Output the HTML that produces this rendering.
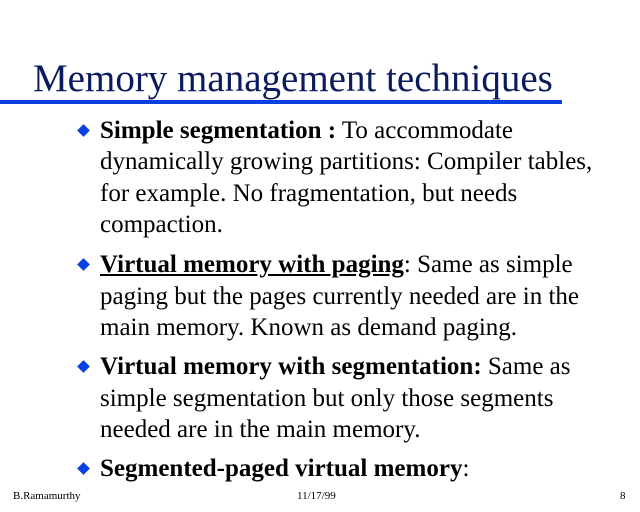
<!DOCTYPE html>
<html><head><style>
body{margin:0;width:640px;height:512px;background:#fff;position:relative;overflow:hidden;font-family:"Liberation Serif",serif;}
.t{position:absolute;left:33px;top:59px;font-size:39px;line-height:39px;color:#0a1a5c;white-space:nowrap;}
.rule{position:absolute;left:0;top:100px;width:562px;height:4px;background:#0a3fe0;}
.l{position:absolute;left:100px;font-size:25px;line-height:25px;white-space:nowrap;color:#000;}
.d{position:absolute;left:79px;width:9px;height:9px;background:#0a3fe0;transform:rotate(45deg);}
.f{position:absolute;top:491px;font-size:11px;line-height:11px;color:#000;}
</style></head><body>
<div class="t">Memory management techniques</div>
<div class="rule"></div>
<div class="d" style="top:126px"></div>
<div class="l" style="top:118px"><b>Simple segmentation :</b> To accommodate</div>
<div class="l" style="top:149px">dynamically growing partitions: Compiler tables,</div>
<div class="l" style="top:181px">for example. No fragmentation, but needs</div>
<div class="l" style="top:212px">compaction.</div>
<div class="d" style="top:260px"></div>
<div class="l" style="top:252px"><b><u>Virtual memory with paging</u></b>: Same as simple</div>
<div class="l" style="top:284px">paging but the pages currently needed are in the</div>
<div class="l" style="top:315px">main memory. Known as demand paging.</div>
<div class="d" style="top:362px"></div>
<div class="l" style="top:354px"><b>Virtual memory with segmentation:</b> Same as</div>
<div class="l" style="top:386px">simple segmentation but only those segments</div>
<div class="l" style="top:417px">needed are in the main memory.</div>
<div class="d" style="top:464px"></div>
<div class="l" style="top:456px"><b>Segmented-paged virtual memory</b>:</div>
<div class="f" style="left:13px">B.Ramamurthy</div>
<div class="f" style="left:297px">11/17/99</div>
<div class="f" style="left:620px">8</div>
</body></html>
